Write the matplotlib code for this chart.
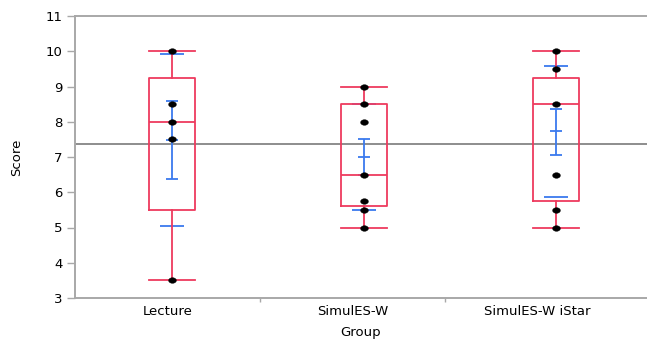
import matplotlib
matplotlib.use("Agg")
import matplotlib.pyplot as plt
from matplotlib.path import Path
import numpy as np

# ---- data ----
groups = ["Lecture", "SimulES-W", "SimulES-W iStar"]
points_lecture = [10, 8.5, 8, 7.5, 3.5]
points_simules = [9, 8.5, 8, 6.5, 5.75, 5.5, 5]
points_istar = [10, 9.5, 8.5, 6.5, 5.5, 5]
whisker_low = [3.5, 5.0, 5.0]
q1 = [5.5, 5.62, 5.75]
median = [8.0, 6.5, 8.5]
q3 = [9.25, 8.5, 9.25]
whisker_high = [10.0, 9.0, 10.0]
means = [7.48, 7.0, 7.73]
ci_low = [6.38, 6.5, 7.07]
ci_high = [8.58, 7.5, 8.37]
std_dev = [2.43, 1.5, 1.86]
grand_mean = 7.37
yticks = [3, 4, 5, 6, 7, 8, 9, 10, 11]

# ---- layout/style ----
RED = "#EE3A5E"
BLUE = "#3A7AEE"
GREY = "#A8A8A8"
W, H = 647, 343
fig = plt.figure(figsize=(W / 100, H / 100), dpi=100)
ax = fig.add_axes([75 / W, (H - 298) / H, (W - 75) / W, (298 - 16) / H])

unit = 185.0  # px per category
ax.set_xlim(0, (W - 75) / unit)
ax.set_ylim(3, 11)
positions = [0.524, 1.561, 2.6]
box_w = 46 / unit
sd_w = 24 / unit
ci_w = 12 / unit

all_points = [points_lecture, points_simules, points_istar]

# elliptical dot marker (wider than tall)
t = np.linspace(0, 2 * np.pi, 40)
ell = Path(np.column_stack([np.cos(t), 0.72 * np.sin(t)]), closed=True)

stats = []
for i in range(3):
    stats.append(dict(med=median[i], q1=q1[i], q3=q3[i], whislo=whisker_low[i],
                      whishi=whisker_high[i], fliers=[], label=groups[i]))

# blue: std dev caps, CI bar with mean tick
for i, x in enumerate(positions):
    m, s = means[i], std_dev[i]
    ax.hlines([m + s, m - s], x - sd_w / 2, x + sd_w / 2, color=BLUE, lw=1.3, zorder=2)
    ax.vlines(x, ci_low[i], ci_high[i], color=BLUE, lw=1.3, zorder=2)
    ax.hlines([ci_low[i], ci_high[i], m], x - ci_w / 2, x + ci_w / 2, color=BLUE, lw=1.3, zorder=2)

lp = dict(color=RED, lw=1.3)
ax.bxp(stats, positions=positions, widths=box_w, showfliers=False,
       boxprops=lp, whiskerprops=lp, capprops=lp, medianprops=lp,
       capwidths=box_w, manage_ticks=False, zorder=3)

for i, x in enumerate(positions):
    ys = all_points[i]
    ax.plot([x] * len(ys), ys, linestyle="none", marker=ell, color="black",
            ms=5.6, mec="black", mew=0.3, zorder=5)

ax.axhline(grand_mean, color="#7A7A7A", lw=1.2, zorder=1)

# axes styling
for side in ["left", "top", "bottom"]:
    ax.spines[side].set_color(GREY)
    ax.spines[side].set_linewidth(1.4)
ax.spines["right"].set_visible(False)

ax.set_yticks(yticks)
ax.set_yticklabels([str(v) for v in yticks], fontsize=9.5)
ax.tick_params(axis="y", length=6, width=1, color=GREY, pad=3)

ax.set_xticks([1, 2])
ax.set_xticklabels([])
ax.tick_params(axis="x", which="major", length=3, width=1, color=GREY)
ax.set_xticks([0.5, 1.5, 2.5], minor=True)
ax.set_xticklabels(groups, minor=True, fontsize=9.5)
ax.tick_params(axis="x", which="minor", length=0, pad=5)

ax.set_xlabel("Group", fontsize=9.5, labelpad=6)
ax.set_ylabel("Score", fontsize=9.5, labelpad=16)

fig.savefig("out.png", dpi=100)
